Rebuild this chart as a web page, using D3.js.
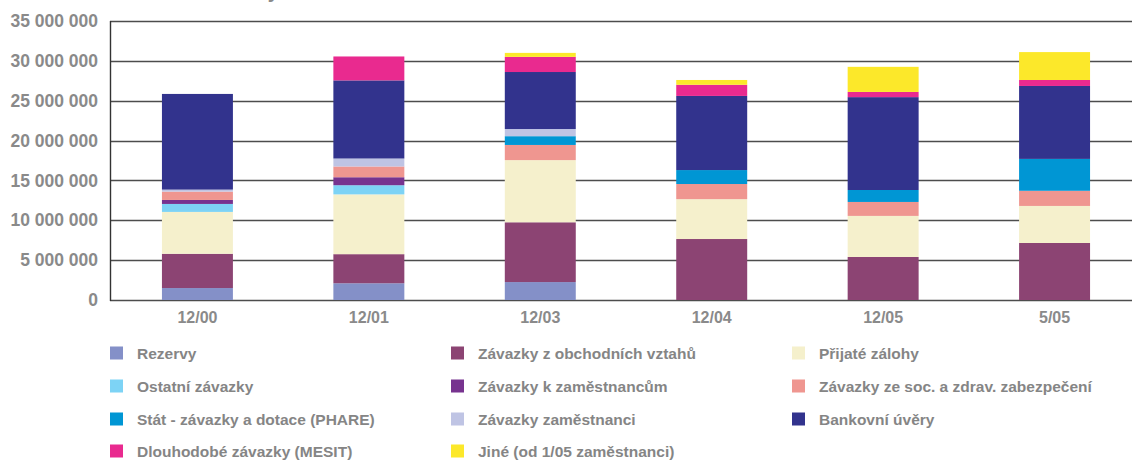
<!DOCTYPE html>
<html>
<head>
<meta charset="utf-8">
<script src="https://cdn.jsdelivr.net/npm/d3@7"></script>
<style>
  body { margin: 0; background: #fff; }
  svg { display: block; font-family: "Liberation Sans", Arial, sans-serif; }
</style>
</head>
<body>
<script>
const w = 1132;
const h = 461;

const categories = ["12/00", "12/01", "12/03", "12/04", "12/05", "5/05"];
const yTicks = [0, 5000000, 10000000, 15000000, 20000000, 25000000, 30000000, 35000000];

const seriesNames = [
    "Rezervy",
    "Závazky z obchodních vztahů",
    "Přijaté zálohy",
    "Ostatní závazky",
    "Závazky k zaměstnancům",
    "Závazky ze soc. a zdrav. zabezpečení",
    "Stát - závazky a dotace (PHARE)",
    "Závazky zaměstnanci",
    "Bankovní úvěry",
    "Dlouhodobé závazky (MESIT)",
    "Jiné (od 1/05 zaměstnanci)"
];
const seriesColors = [
    "#8490c8", "#8c4473", "#f5f0cc", "#7dd3f5", "#77338f", "#ef9690",
    "#0096d4", "#bfc4e4", "#32338d", "#e92a8f", "#fce82a"
];

// values per category, same order as categories
const rezervy = [1500000, 2100000, 2250000, 0, 0, 0];
const obchodni = [4300000, 3650000, 7500000, 7650000, 5400000, 7150000];
const zalohy = [5250000, 7500000, 7800000, 5000000, 5150000, 4650000];
const ostatni = [1000000, 1150000, 0, 0, 0, 0];
const kZamestnancum = [500000, 1000000, 0, 0, 0, 0];
const socZdrav = [1050000, 1350000, 1900000, 1900000, 1750000, 1900000];
const phare = [0, 0, 1100000, 1750000, 1500000, 4000000];
const zamestnanci = [250000, 1000000, 900000, 0, 0, 0];
const bankovni = [12000000, 9800000, 7150000, 9300000, 11650000, 9150000];
const mesit = [0, 3000000, 1900000, 1400000, 650000, 750000];
const jine = [0, 0, 500000, 600000, 3150000, 3500000];

const seriesValues = [rezervy, obchodni, zalohy, ostatni, kZamestnancum, socZdrav,
    phare, zamestnanci, bankovni, mesit, jine];

const table = categories.map(function (c, i) {
    const row = { cat: c };
    seriesNames.forEach(function (s, j) { row[s] = seriesValues[j][i]; });
    return row;
});

const svg = d3.select("body").append("svg").attr("width", w).attr("height", h);

const plotLeft = 110;
const plotTop = 21;
const plotBottom = 300;

const xScale = d3.scaleBand()
    .domain(categories)
    .range([plotLeft, 1142])
    .paddingInner(0.586)
    .paddingOuter(0.303);

const yScale = d3.scaleLinear()
    .domain([0, 35000000])
    .range([plotBottom, plotTop]);

// title, cut off at the top edge (only a descender shows)
svg.append("text")
    .attr("x", 279)
    .attr("y", -2)
    .attr("text-anchor", "end")
    .attr("fill", "#8a8a8a")
    .attr("font-size", 20)
    .attr("font-weight", "bold")
    .text("Závazky");

// grid lines
svg.append("g")
    .selectAll("line")
    .data(yTicks)
    .enter()
    .append("line")
    .attr("x1", plotLeft)
    .attr("x2", w)
    .attr("y1", function (d) { return Math.round(yScale(d)) + 0.5; })
    .attr("y2", function (d) { return Math.round(yScale(d)) + 0.5; })
    .attr("stroke", "#4d4d4d")
    .attr("stroke-width", 1.4);

const stack = d3.stack().keys(seriesNames)(table);

svg.append("g")
    .selectAll("g")
    .data(stack)
    .enter()
    .append("g")
    .attr("fill", function (d, i) { return seriesColors[i]; })
    .selectAll("rect")
    .data(function (d) { return d; })
    .enter()
    .append("rect")
    .attr("x", function (d) { return xScale(d.data.cat); })
    .attr("width", xScale.bandwidth())
    .attr("y", function (d) { return yScale(d[1]); })
    .attr("height", function (d) { return yScale(d[0]) - yScale(d[1]); });

// left axis line
svg.append("line")
    .attr("x1", plotLeft + 0.5)
    .attr("x2", plotLeft + 0.5)
    .attr("y1", plotTop)
    .attr("y2", plotBottom + 1)
    .attr("stroke", "#333")
    .attr("stroke-width", 1.4);

// y axis
const yAxis = d3.axisLeft(yScale)
    .tickValues(yTicks)
    .tickSize(0)
    .tickPadding(12)
    .tickFormat(function (d) { return d3.format(",")(d).replace(/,/g, " "); });

svg.append("g")
    .attr("transform", "translate(" + plotLeft + ",0)")
    .call(yAxis)
    .call(function (g) { g.select(".domain").remove(); })
    .selectAll("text")
    .attr("fill", "#8a8a8a")
    .attr("font-size", 17.5)
    .attr("font-weight", "bold")
    .attr("font-family", "Liberation Sans, Arial, sans-serif");

// x axis
const xAxis = d3.axisBottom(xScale).tickSize(0).tickPadding(12);

svg.append("g")
    .attr("transform", "translate(0," + plotBottom + ")")
    .call(xAxis)
    .call(function (g) { g.select(".domain").remove(); })
    .selectAll("text")
    .attr("fill", "#8a8a8a")
    .attr("font-size", 16)
    .attr("font-weight", "bold")
    .attr("font-family", "Liberation Sans, Arial, sans-serif");

// legend
const colX = [110, 451, 792];
const rowY = [353, 386, 419, 451];

const legend = svg.append("g")
    .selectAll("g")
    .data(seriesNames)
    .enter()
    .append("g")
    .attr("transform", function (d, i) {
        return "translate(" + colX[i % 3] + "," + rowY[Math.floor(i / 3)] + ")";
    });

legend.append("rect")
    .attr("x", 0)
    .attr("y", -6.5)
    .attr("width", 13)
    .attr("height", 13)
    .attr("fill", function (d, i) { return seriesColors[i]; });

legend.append("text")
    .attr("x", 27)
    .attr("y", 5.5)
    .attr("fill", "#858585")
    .attr("font-size", 15.5)
    .attr("font-weight", "bold")
    .text(function (d) { return d; });
</script>
</body>
</html>
